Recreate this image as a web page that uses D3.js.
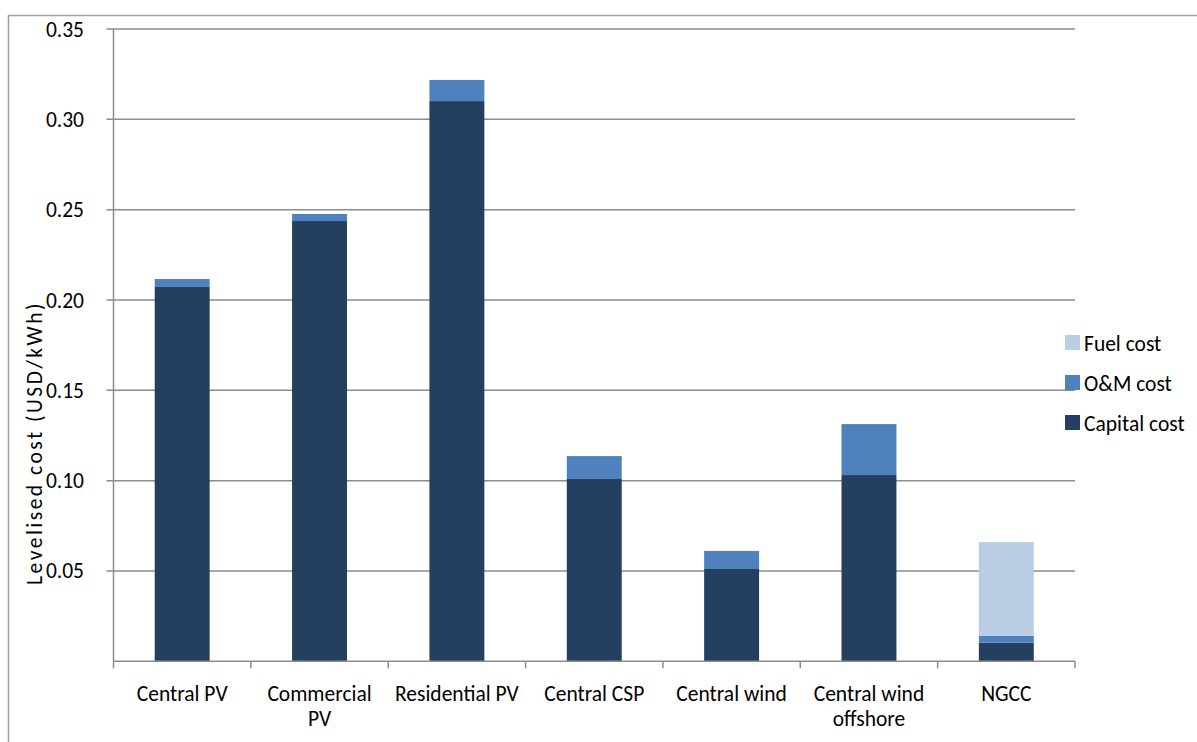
<!DOCTYPE html>
<html>
<head>
<meta charset="utf-8">
<script src="https://cdn.jsdelivr.net/npm/d3@7"></script>
<style>
  body { margin: 0; background: #fff; }
  svg text { font-family: Carlito, Calibri, Lato, "Liberation Sans", sans-serif; fill: #000; }
</style>
</head>
<body>
<div id="chart"></div>
<script>
(function(){
    "use strict"

    var width = 1197;
    var height = 742;

    // data
    var categories = ["Central PV", "Commercial PV", "Residential PV", "Central CSP", "Central wind", "Central wind offshore", "NGCC"];
    var labelLines = [["Central PV"], ["Commercial", "PV"], ["Residential PV"], ["Central CSP"], ["Central wind"], ["Central wind", "offshore"], ["NGCC"]];
    var capitalCost = [0.2072, 0.2437, 0.3101, 0.1009, 0.0511, 0.1031, 0.0103];
    var omCost      = [0.0044, 0.0039, 0.0117, 0.0127, 0.0100, 0.0282, 0.0037];
    var fuelCost    = [0,      0,      0,      0,      0,      0,      0.0520];
    var seriesNames = ["Capital cost", "O&M cost", "Fuel cost"];
    var seriesColors = ["#253F60", "#4F81BD", "#B9CDE5"];
    var yTicks = [0.05, 0.10, 0.15, 0.20, 0.25, 0.30, 0.35];

    var plot = {left: 113.5, right: 1075, top: 29, bottom: 661.3};
    var fontSize = "21.5px";

    var rows = categories.map(function(c, i) {
        return {cat: c, "Capital cost": capitalCost[i], "O&M cost": omCost[i], "Fuel cost": fuelCost[i]};
    });
    var stacked = d3.stack().keys(seriesNames)(rows);

    var x = d3.scaleBand()
        .domain(categories)
        .range([plot.left, plot.right])
        .paddingInner(0.6)
        .paddingOuter(0.3);
    var xOuter = d3.scaleBand().domain(categories).range([plot.left, plot.right]);
    var y = d3.scaleLinear().domain([0, 0.35]).range([plot.bottom, plot.top]);

    var svg = d3.select("#chart").append("svg")
        .attr("width", width)
        .attr("height", height);

    var grey = "#8C8C8C";

    // outer frame (only top and left visible)
    svg.append("path")
        .attr("d", "M8.5," + height + "V15.5H" + width)
        .attr("fill", "none")
        .attr("stroke", "#A0A0A0")
        .attr("stroke-width", 1.5);

    // gridlines
    svg.append("g").selectAll("line")
        .data(yTicks)
        .join("line")
        .attr("x1", plot.left - 7)
        .attr("x2", plot.right)
        .attr("y1", function(d){ return y(d); })
        .attr("y2", function(d){ return y(d); })
        .attr("stroke", grey)
        .attr("stroke-width", 1.5);

    // y tick labels
    svg.append("g").selectAll("text")
        .data(yTicks)
        .join("text")
        .attr("x", 84)
        .attr("y", function(d){ return y(d); })
        .attr("dy", "0.35em")
        .attr("text-anchor", "end")
        .style("font-size", fontSize)
        .text(function(d){ return d3.format(".2f")(d); });

    // bars
    svg.append("g").selectAll("g")
        .data(stacked)
        .join("g")
        .attr("fill", function(d, i){ return seriesColors[i]; })
        .selectAll("rect")
        .data(function(d){ return d.filter(function(s){ return s[1] - s[0] > 0; }); })
        .join("rect")
        .attr("x", function(d){ return x(d.data.cat); })
        .attr("width", x.bandwidth())
        .attr("y", function(d){ return y(d[1]); })
        .attr("height", function(d){ return y(d[0]) - y(d[1]); });

    // axes
    svg.append("line")
        .attr("x1", plot.left).attr("x2", plot.left)
        .attr("y1", plot.top).attr("y2", plot.bottom)
        .attr("stroke", grey).attr("stroke-width", 1.5);
    svg.append("line")
        .attr("x1", plot.left).attr("x2", plot.right)
        .attr("y1", plot.bottom).attr("y2", plot.bottom)
        .attr("stroke", grey).attr("stroke-width", 1.5);

    var bounds = categories.map(function(c){ return xOuter(c); }).concat([plot.right]);
    svg.append("g").selectAll("line")
        .data(bounds)
        .join("line")
        .attr("x1", function(d){ return d; })
        .attr("x2", function(d){ return d; })
        .attr("y1", plot.bottom)
        .attr("y2", plot.bottom + 7)
        .attr("stroke", grey)
        .attr("stroke-width", 1.5);

    // category labels
    var xl = svg.append("g").selectAll("text")
        .data(categories)
        .join("text")
        .attr("text-anchor", "middle")
        .style("font-size", fontSize)
        .attr("x", function(d){ return xOuter(d) + xOuter.bandwidth() / 2; })
        .attr("y", 701);
    xl.each(function(d, i) {
        d3.select(this).selectAll("tspan")
            .data(labelLines[i])
            .join("tspan")
            .attr("x", xOuter(d) + xOuter.bandwidth() / 2)
            .attr("dy", function(t, j){ return j ? 25 : 0; })
            .text(function(t){ return t; });
    });

    // y title
    svg.append("text")
        .attr("transform", "translate(42,443) rotate(-90)")
        .attr("text-anchor", "middle")
        .style("font-size", fontSize)
        .style("letter-spacing", "2.5px")
        .text("Levelised cost (USD/kWh)");

    // legend
    var legendOrder = [2, 1, 0];
    var lg = svg.append("g").selectAll("g")
        .data(legendOrder)
        .join("g")
        .attr("transform", function(d, i){ return "translate(1065," + (343 + i * 40) + ")"; });
    lg.append("rect")
        .attr("x", 0).attr("y", -8)
        .attr("width", 15).attr("height", 15)
        .attr("fill", function(d){ return seriesColors[d]; });
    lg.append("text")
        .attr("x", 19)
        .attr("dy", "0.35em")
        .style("font-size", fontSize)
        .text(function(d){ return seriesNames[d]; });
}());
</script>
</body>
</html>
